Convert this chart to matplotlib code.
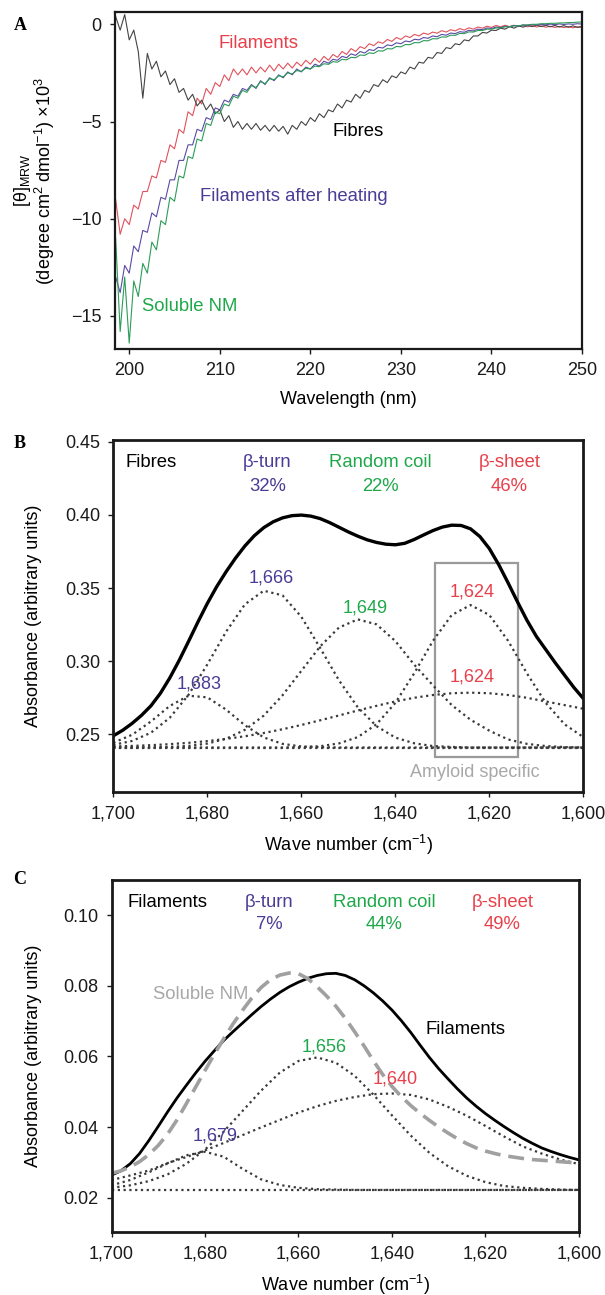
"""
CD spectra (A) and FTIR band fits (B: fibres, C: filaments) for NM.
"""

import matplotlib
matplotlib.use("Agg")
import matplotlib.pyplot as plt
from matplotlib.patches import Rectangle
from matplotlib.ticker import FuncFormatter
import numpy as np

plt.rcParams["font.family"] = ["Liberation Sans", "DejaVu Sans"]
plt.rcParams["mathtext.fontset"] = "custom"
plt.rcParams["mathtext.rm"] = "Liberation Sans"
plt.rcParams["mathtext.it"] = "Liberation Sans:italic"
plt.rcParams["mathtext.bf"] = "Liberation Sans:bold"

RED = "#e8404a"
PURPLE = "#4a3c96"
GREEN = "#1ea84a"
GREY_TXT = "#a8a8a8"

# ---- Panel A: CD spectra, 0.5 nm steps from 198.5 to 250 nm -----------
wavelength = np.arange(198.5, 250.25, 0.5)

fibres_cd = [
    0.4, -0.3, 0.5, -0.8, -0.3, -1.4, -3.8, -1.5, -2.3, -1.9,
    -2.7, -2.4, -3.1, -2.8, -3.5, -3.3, -3.9, -3.6, -4.2, -3.9,
    -4.4, -4.1, -4.6, -4.4, -5.0, -4.7, -5.3, -5.0, -5.4, -5.1,
    -5.4, -5.1, -5.45, -5.2, -5.5, -5.2, -5.5, -5.25, -5.65, -5.2,
    -5.4, -5.0, -5.2, -4.8, -5.0, -4.6, -4.8, -4.4, -4.5, -4.1,
    -4.3, -3.9, -4.0, -3.6, -3.8, -3.4, -3.5, -3.1, -3.2, -2.85,
    -3.0, -2.65, -2.75, -2.45, -2.55, -2.2, -2.3, -1.95, -2.0, -1.7,
    -1.75, -1.45, -1.5, -1.2, -1.25, -1.0, -1.05, -0.8, -0.85, -0.6,
    -0.6, -0.42, -0.45, -0.3, -0.32, -0.2, -0.25, -0.12, -0.2, -0.08,
    -0.15, -0.05, -0.12, -0.04, -0.12, -0.05, -0.13, -0.06, -0.14, -0.07,
    -0.15, -0.08, -0.16, -0.1,
]
filaments_cd = [
    -9.0, -10.8, -10.0, -10.3, -9.3, -9.5, -8.6, -8.6, -7.8, -7.9,
    -7.0, -7.1, -6.2, -6.4, -5.4, -5.6, -4.5, -4.7, -3.8, -4.1,
    -3.3, -3.6, -3.0, -3.2, -2.6, -2.9, -2.3, -2.6, -2.3, -2.6,
    -2.2, -2.5, -2.2, -2.45, -2.1, -2.4, -2.05, -2.3, -2.0, -2.25,
    -1.95, -2.15, -1.85, -2.05, -1.75, -1.95, -1.65, -1.85, -1.55, -1.7,
    -1.4, -1.55, -1.25, -1.4, -1.15, -1.25, -1.0, -1.1, -0.9, -0.98,
    -0.78, -0.88, -0.68, -0.78, -0.6, -0.68, -0.52, -0.6, -0.45, -0.52,
    -0.4, -0.46, -0.33, -0.4, -0.28, -0.34, -0.22, -0.3, -0.18, -0.25,
    -0.14, -0.2, -0.1, -0.16, -0.06, -0.13, -0.05, -0.12, -0.05, -0.12,
    -0.06, -0.13, -0.07, -0.14, -0.08, -0.15, -0.1, -0.16, -0.11, -0.17,
    -0.12, -0.18, -0.13, -0.17,
]
heated_cd = [
    -13.0, -13.8, -12.4, -12.8, -11.4, -11.7, -10.6, -10.7, -9.7, -9.9,
    -8.9, -9.0, -8.0, -8.0, -7.0, -7.0, -6.2, -6.2, -5.4, -5.5,
    -4.8, -4.9, -4.3, -4.4, -3.9, -4.0, -3.6, -3.7, -3.3, -3.4,
    -3.1, -3.3, -2.9, -3.1, -2.75, -2.9, -2.6, -2.75, -2.45, -2.6,
    -2.3, -2.45, -2.2, -2.3, -2.05, -2.15, -1.9, -2.0, -1.8, -1.85,
    -1.65, -1.72, -1.52, -1.6, -1.4, -1.48, -1.3, -1.35, -1.18, -1.22,
    -1.06, -1.1, -0.95, -1.0, -0.86, -0.9, -0.77, -0.8, -0.68, -0.72,
    -0.6, -0.64, -0.52, -0.56, -0.45, -0.48, -0.38, -0.41, -0.31, -0.34,
    -0.25, -0.28, -0.19, -0.22, -0.14, -0.17, -0.1, -0.12, -0.06, -0.09,
    -0.03, -0.06, -0.01, -0.04, 0.0, -0.03, 0.01, -0.02, 0.02, -0.01,
    0.02, 0.0, 0.03, 0.01,
]
soluble_cd = [
    -11.0, -15.8, -13.0, -16.4, -13.2, -14.0, -12.3, -12.8, -11.2, -11.6,
    -10.1, -10.3, -8.9, -9.1, -7.8, -7.9, -6.8, -6.9, -5.9, -6.0,
    -5.1, -5.2, -4.5, -4.6, -4.1, -4.2, -3.7, -3.8, -3.4, -3.5,
    -3.15, -3.25, -2.95, -3.05, -2.8, -2.85, -2.65, -2.7, -2.5, -2.55,
    -2.38, -2.42, -2.26, -2.3, -2.15, -2.18, -2.03, -2.06, -1.92, -1.95,
    -1.8, -1.83, -1.7, -1.72, -1.58, -1.6, -1.47, -1.5, -1.36, -1.38,
    -1.25, -1.27, -1.14, -1.16, -1.04, -1.05, -0.94, -0.95, -0.84, -0.85,
    -0.74, -0.75, -0.65, -0.66, -0.56, -0.57, -0.47, -0.48, -0.39, -0.4,
    -0.32, -0.32, -0.25, -0.25, -0.19, -0.19, -0.13, -0.13, -0.08, -0.08,
    -0.04, -0.03, 0.0, 0.0, 0.03, 0.03, 0.05, 0.05, 0.07, 0.07,
    0.09, 0.09, 0.11, 0.12,
]

# ---- Panels B/C: FTIR amide I -----------------------------------------
# band components read every 4 cm-1, measured envelopes every 2 cm-1
wavenumber = [1700, 1696, 1692, 1688, 1684, 1680, 1676, 1672, 1668, 1664,
              1660, 1656, 1652, 1648, 1644, 1640, 1636, 1632, 1628, 1624,
              1620, 1616, 1612, 1608, 1604, 1600]
wavenumber_fine = np.arange(1700, 1599, -2)

# B: fibres
fibres_env = [0.2490, 0.2528, 0.2575, 0.2630, 0.2695, 0.2780, 0.2885, 0.3005,
              0.3135, 0.3268, 0.3395, 0.3510, 0.3612, 0.3705, 0.3788, 0.3858,
              0.3913, 0.3953, 0.3980, 0.3995, 0.3999, 0.3992, 0.3975, 0.3948,
              0.3916, 0.3884, 0.3855, 0.3830, 0.3812, 0.3800, 0.3796, 0.3806,
              0.3832, 0.3863, 0.3893, 0.3917, 0.3930, 0.3928, 0.3905, 0.3852,
              0.3770, 0.3660, 0.3535, 0.3405, 0.3280, 0.3170, 0.3080, 0.2990,
              0.2905, 0.2820, 0.2745]
fibres_1683 = [0.2443, 0.2497, 0.2588, 0.2694, 0.2764, 0.2753, 0.2669, 0.2562,
               0.2479, 0.2435, 0.2417, 0.2412, 0.2410, 0.2410, 0.2410, 0.2410,
               0.2410, 0.2410, 0.2410, 0.2410, 0.2410, 0.2410, 0.2410, 0.2410,
               0.2410, 0.2410]
fibres_1666 = [0.2428, 0.2455, 0.2511, 0.2613, 0.2770, 0.2978, 0.3202, 0.3389,
               0.3482, 0.3450, 0.3304, 0.3091, 0.2870, 0.2685, 0.2556, 0.2478,
               0.2439, 0.2420, 0.2414, 0.2410, 0.2410, 0.2410, 0.2410, 0.2410,
               0.2410, 0.2410]
fibres_1649 = [0.2410, 0.2410, 0.2411, 0.2414, 0.2421, 0.2437, 0.2470, 0.2531,
               0.2628, 0.2767, 0.2934, 0.3101, 0.3230, 0.3286, 0.3252, 0.3138,
               0.2977, 0.2835, 0.2700, 0.2600, 0.2525, 0.2465, 0.2435, 0.2420,
               0.2413, 0.2410]
fibres_1624 = [0.2410, 0.2410, 0.2410, 0.2410, 0.2410, 0.2410, 0.2410, 0.2410,
               0.2410, 0.2410, 0.2413, 0.2419, 0.2438, 0.2481, 0.2569, 0.2715,
               0.2917, 0.3139, 0.3316, 0.3384, 0.3316, 0.3139, 0.2917, 0.2715,
               0.2569, 0.2481]
fibres_1624_broad = [0.2417, 0.2421, 0.2426, 0.2433, 0.2442, 0.2454, 0.2469,
                     0.2487, 0.2509, 0.2535, 0.2564, 0.2596, 0.2629, 0.2663,
                     0.2695, 0.2725, 0.2750, 0.2769, 0.2781, 0.2785, 0.2781,
                     0.2769, 0.2750, 0.2725, 0.2700, 0.2675]
fibres_base = 0.2405
amyloid_box = (1631.5, 1614.0, 0.2345, 0.3670)   # x0, x1, y0, y1

# C: filaments + soluble NM
filaments_env = [0.0264, 0.0276, 0.0296, 0.0325, 0.0362, 0.0402, 0.0443,
                 0.0482, 0.0518, 0.0553, 0.0586, 0.0616, 0.0645, 0.0670,
                 0.0694, 0.0718, 0.0741, 0.0762, 0.0781, 0.0797, 0.0810,
                 0.0821, 0.0829, 0.0834, 0.0835, 0.0829, 0.0817, 0.0800,
                 0.0780, 0.0757, 0.0731, 0.0701, 0.0668, 0.0632, 0.0597,
                 0.0565, 0.0536, 0.0508, 0.0482, 0.0459, 0.0438, 0.0419,
                 0.0401, 0.0384, 0.0368, 0.0354, 0.0341, 0.0331, 0.0322,
                 0.0314, 0.0307]
soluble_ir = [0.0269, 0.0276, 0.0287, 0.0302, 0.0322, 0.0348, 0.0380, 0.0420,
              0.0466, 0.0513, 0.0560, 0.0606, 0.0650, 0.0692, 0.0730, 0.0765,
              0.0795, 0.0817, 0.0830, 0.0836, 0.0834, 0.0820, 0.0797, 0.0771,
              0.0742, 0.0708, 0.0670, 0.0630, 0.0588, 0.0549, 0.0515, 0.0486,
              0.0461, 0.0439, 0.0419, 0.0400, 0.0383, 0.0367, 0.0353, 0.0341,
              0.0332, 0.0325, 0.0319, 0.0315, 0.0311, 0.0308, 0.0306, 0.0304,
              0.0302, 0.0300, 0.0297]
filaments_1679 = [0.0235, 0.0250, 0.0272, 0.0297, 0.0320, 0.0330, 0.0316,
                  0.0282, 0.0252, 0.0236, 0.0228, 0.0224, 0.0223, 0.0222,
                  0.0222, 0.0222, 0.0222, 0.0222, 0.0222, 0.0222, 0.0222,
                  0.0222, 0.0222, 0.0222, 0.0222, 0.0222]
filaments_1656 = [0.0228, 0.0235, 0.0247, 0.0266, 0.0296, 0.0336, 0.0387,
                  0.0445, 0.0503, 0.0554, 0.0587, 0.0597, 0.0582, 0.0545,
                  0.0492, 0.0433, 0.0376, 0.0327, 0.0289, 0.0262, 0.0244,
                  0.0233, 0.0228, 0.0225, 0.0223, 0.0222]
filaments_1640 = [0.0250, 0.0263, 0.0277, 0.0298, 0.0315, 0.0334, 0.0355,
                  0.0377, 0.0399, 0.0420, 0.0441, 0.0459, 0.0474, 0.0485,
                  0.0493, 0.0495, 0.0491, 0.0478, 0.0457, 0.0432, 0.0403,
                  0.0373, 0.0345, 0.0325, 0.0308, 0.0295]
filaments_base = 0.0222

comma_fmt = FuncFormatter(lambda v, p: f"{v:,.0f}")
two_dec = FuncFormatter(lambda v, p: f"{v:.2f}")

fig = plt.figure(figsize=(6.05, 12.95), dpi=100)
ax_a = fig.add_axes([0.1901, 0.7305, 0.7719, 0.2602])
ax_b = fig.add_axes([0.1873, 0.3882, 0.7769, 0.2720])
ax_c = fig.add_axes([0.1843, 0.0484, 0.7727, 0.2720])


def style_axes(ax, lw):
    for s in ax.spines.values():
        s.set_linewidth(lw)
        s.set_color("#1a1a1a")
    ax.tick_params(direction="out", length=3.5, width=1.0, pad=6,
                   labelsize=13, colors="#1a1a1a")


# ---- A -----------------------------------------------------------------
ax = ax_a
ax.plot(wavelength, filaments_cd, color="#e0525c", lw=0.8)
ax.plot(wavelength, fibres_cd, color="#444444", lw=0.8)
ax.plot(wavelength, heated_cd, color="#5a4aa6", lw=0.8)
ax.plot(wavelength, soluble_cd, color="#2c9c58", lw=0.8)
ax.set_xlim(198.43, 250)
ax.set_ylim(-16.7, 0.63)
ax.set_xticks([200, 210, 220, 230, 240, 250])
ax.set_yticks([0, -5, -10, -15])
style_axes(ax, 1.6)
ax.set_xlabel("Wavelength (nm)", fontsize=13)
ax.xaxis.set_label_coords(0.5, -0.125)
ax.set_ylabel("[θ]$_{\\mathrm{MRW}}$\n(degree cm$^{2}$ dmol$^{-1}$) ×10$^{3}$",
              fontsize=13, linespacing=1.0)
ax.yaxis.set_label_coords(-0.125, 0.5)
ax.text(214.3, -1.01, "Filaments", color=RED, fontsize=13.3, ha="center", va="center")
ax.text(225.3, -5.49, "Fibres", color="black", fontsize=13.3, ha="center", va="center")
ax.text(218.2, -8.84, "Filaments after heating", color=PURPLE, fontsize=13.3,
        ha="center", va="center")
ax.text(206.7, -14.53, "Soluble NM", color=GREEN, fontsize=13.3, ha="center", va="center")

# ---- B -----------------------------------------------------------------
ax = ax_b
dot = dict(color="#3a3a3a", lw=1.6, linestyle=(0, (1, 1.6)))
ax.axhline(fibres_base, **dot)
for comp in (fibres_1683, fibres_1666, fibres_1649, fibres_1624, fibres_1624_broad):
    ax.plot(wavenumber, comp, **dot)
ax.plot(wavenumber_fine, fibres_env, color="black", lw=2.4, solid_capstyle="round")
bx0, bx1, by0, by1 = amyloid_box
ax.add_patch(Rectangle((bx1, by0), bx0 - bx1, by1 - by0, fill=False,
                       edgecolor="#9a9a9a", lw=1.6))
ax.set_xlim(1700, 1600)
ax.set_ylim(0.2104, 0.4512)
ax.set_xticks([1700, 1680, 1660, 1640, 1620, 1600])
ax.set_yticks([0.25, 0.30, 0.35, 0.40, 0.45])
ax.yaxis.set_major_formatter(two_dec)
ax.xaxis.set_major_formatter(comma_fmt)
style_axes(ax, 2.0)
ax.set_xlabel("Wave number (cm$^{-1}$)", fontsize=13)
ax.xaxis.set_label_coords(0.5, -0.1155)
ax.set_ylabel("Absorbance (arbitrary units)", fontsize=13)
ax.yaxis.set_label_coords(-0.152, 0.5)
ax.text(1697.5, 0.4358, "Fibres", fontsize=13.3, ha="left", va="center")
for x, name, pct, col in ((1667.2, "β-turn", "32%", PURPLE),
                          (1643.2, "Random coil", "22%", GREEN),
                          (1615.7, "β-sheet", "46%", RED)):
    ax.text(x, 0.4356, name, color=col, fontsize=13.3, ha="center", va="center")
    ax.text(x, 0.4196, pct, color=col, fontsize=13.3, ha="center", va="center")
ax.text(1666.4, 0.3566, "1,666", color=PURPLE, fontsize=13, ha="center", va="center")
ax.text(1646.5, 0.3365, "1,649", color=GREEN, fontsize=13, ha="center", va="center")
ax.text(1623.6, 0.3475, "1,624", color=RED, fontsize=13, ha="center", va="center")
ax.text(1623.6, 0.2893, "1,624", color=RED, fontsize=13, ha="center", va="center")
ax.text(1681.7, 0.2847, "1,683", color=PURPLE, fontsize=13, ha="center", va="center")
ax.text(1623.0, 0.2238, "Amyloid specific", color=GREY_TXT, fontsize=13,
        ha="center", va="center")

# ---- C -----------------------------------------------------------------
ax = ax_c
ax.axhline(filaments_base, **dot)
for comp in (filaments_1679, filaments_1656, filaments_1640):
    ax.plot(wavenumber, comp, **dot)
ax.plot(wavenumber_fine, filaments_env, color="black", lw=2.0)
ax.plot(wavenumber_fine, soluble_ir, color="#a0a0a0", lw=2.6, dashes=(4.4, 2.2))
ax.set_xlim(1700, 1600)
ax.set_ylim(0.0102, 0.1099)
ax.set_xticks([1700, 1680, 1660, 1640, 1620, 1600])
ax.set_yticks([0.02, 0.04, 0.06, 0.08, 0.10])
ax.yaxis.set_major_formatter(two_dec)
ax.xaxis.set_major_formatter(comma_fmt)
style_axes(ax, 2.0)
ax.set_xlabel("Wave number (cm$^{-1}$)", fontsize=13)
ax.xaxis.set_label_coords(0.5, -0.114)
ax.set_ylabel("Absorbance (arbitrary units)", fontsize=13)
ax.yaxis.set_label_coords(-0.149, 0.5)
ax.text(1696.5, 0.1036, "Filaments", fontsize=13.3, ha="left", va="center")
for x, name, pct, col in ((1666.3, "β-turn", "7%", PURPLE),
                          (1641.7, "Random coil", "44%", GREEN),
                          (1616.4, "β-sheet", "49%", RED)):
    ax.text(x, 0.1036, name, color=col, fontsize=13.3, ha="center", va="center")
    ax.text(x, 0.0974, pct, color=col, fontsize=13.3, ha="center", va="center")
ax.text(1681.0, 0.0774, "Soluble NM", color=GREY_TXT, fontsize=13.3,
        ha="center", va="center")
ax.text(1632.9, 0.0677, "Filaments", fontsize=13.3, ha="left", va="center")
ax.text(1654.6, 0.0627, "1,656", color=GREEN, fontsize=13, ha="center", va="center")
ax.text(1639.3, 0.0536, "1,640", color=RED, fontsize=13, ha="center", va="center")
ax.text(1677.8, 0.0375, "1,679", color=PURPLE, fontsize=13, ha="center", va="center")

# panel letters
for letter, ypx in (("A", 25), ("B", 443), ("C", 879)):
    fig.text(13.5 / 605, 1 - ypx / 1295, letter, family="Liberation Serif",
             fontweight="bold", fontsize=13, ha="left", va="center")

fig.savefig("out.png", dpi=100)
